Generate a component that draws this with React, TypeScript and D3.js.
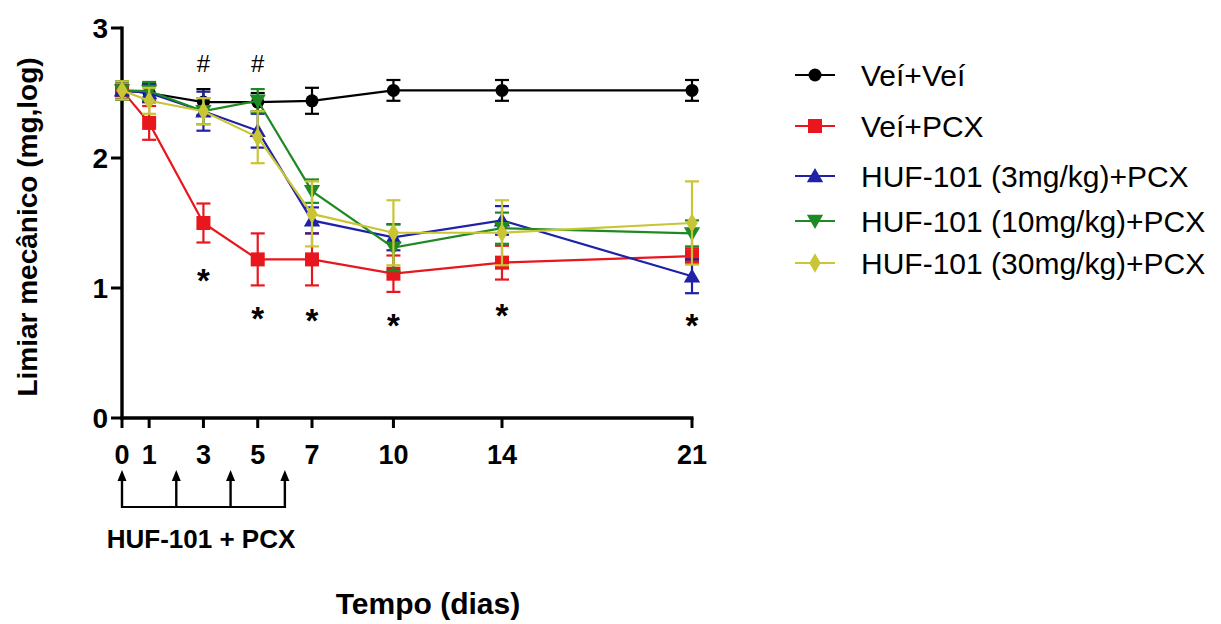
import React from "react";
import * as d3 from "d3";

const days = [0, 1, 3, 5, 7, 10, 14, 21];
const xTickLabels = ["0", "1", "3", "5", "7", "10", "14", "21"];
const yTicks = [0, 1, 2, 3];

const seriesNames = [
  "Veí+Veí",
  "Veí+PCX",
  "HUF-101 (3mg/kg)+PCX",
  "HUF-101 (10mg/kg)+PCX",
  "HUF-101 (30mg/kg)+PCX",
];
const seriesColors = ["#000000", "#e8161d", "#1f22a8", "#1f8a24", "#c9c534"];
const seriesMarkers = ["circle", "square", "triangle", "triangleDown", "diamond"];

const veiVei = [2.52, 2.5, 2.43, 2.43, 2.44, 2.52, 2.52, 2.52];
const veiVeiErr = [0.07, 0.07, 0.1, 0.07, 0.1, 0.08, 0.08, 0.08];
const veiPcx = [2.52, 2.27, 1.5, 1.22, 1.22, 1.11, 1.195, 1.245];
const veiPcxErr = [0.07, 0.13, 0.15, 0.2, 0.2, 0.14, 0.13, 0.06];
const huf3 = [2.52, 2.5, 2.36, 2.21, 1.52, 1.39, 1.52, 1.09];
const huf3Err = [0.07, 0.07, 0.15, 0.13, 0.1, 0.1, 0.11, 0.13];
const huf10 = [2.52, 2.515, 2.36, 2.44, 1.745, 1.31, 1.46, 1.42];
const huf10Err = [0.07, 0.07, 0.1, 0.09, 0.09, 0.18, 0.12, 0.1];
const huf30 = [2.52, 2.44, 2.36, 2.16, 1.57, 1.425, 1.425, 1.5];
const huf30Err = [0.07, 0.1, 0.1, 0.2, 0.25, 0.25, 0.25, 0.32];

const seriesValues = [veiVei, veiPcx, huf3, huf10, huf30];
const seriesErrors = [veiVeiErr, veiPcxErr, huf3Err, huf10Err, huf30Err];

const starDays = [3, 5, 7, 10, 14, 21];
const starValues = [1.08, 0.785, 0.77, 0.73, 0.81, 0.73];
const hashDays = [3, 5];
const hashValues = [2.72, 2.72];
const arrowDays = [0, 2, 4, 6];

const W = 1221;
const H = 624;
const x = d3.scaleLinear().domain([0, 21]).range([122, 692]);
const y = d3.scaleLinear().domain([0, 3]).range([418, 28]);

const FONT = "'Liberation Sans', Arial, Helvetica, sans-serif";

function Marker({ type, cx, cy, color }: { type: string; cx: number; cy: number; color: string }) {
  if (type === "circle") return <circle cx={cx} cy={cy} r={6.5} fill={color} />;
  if (type === "square") return <rect x={cx - 7} y={cy - 7} width={14} height={14} fill={color} />;
  const sym =
    type === "diamond" ? d3.symbol(d3.symbolDiamond, 110) : d3.symbol(d3.symbolTriangle, 115);
  const rot = type === "triangleDown" ? 180 : 0;
  const dy = type === "triangle" ? 1.5 : type === "triangleDown" ? -1.5 : 0;
  return (
    <path
      d={sym() as string}
      transform={`translate(${cx},${cy + dy}) rotate(${rot})`}
      fill={color}
    />
  );
}

export default function App() {
  const line = d3
    .line<number>()
    .x((_, i) => x(days[i]))
    .y((v) => y(v));

  return (
    <svg
      width={W}
      height={H}
      style={{ position: "absolute", left: 0, top: 0, background: "#fff" }}
      fontFamily={FONT}
    >
      <rect width={W} height={H} fill="#fff" />
      {/* axes */}
      <line x1={x(0)} x2={x(0)} y1={y(3) - 1.5} y2={y(0) + 1.5} stroke="#000" strokeWidth={3.4} />
      <line x1={x(0) - 1.5} x2={x(21) + 1.5} y1={y(0)} y2={y(0)} stroke="#000" strokeWidth={3.4} />
      {yTicks.map((t) => (
        <g key={"yt" + t}>
          <line x1={x(0) - 11} x2={x(0)} y1={y(t)} y2={y(t)} stroke="#000" strokeWidth={3} />
          <text
            x={x(0) - 14}
            y={y(t) + 10}
            textAnchor="end"
            fontSize={28}
            fontWeight="bold"
          >
            {t}
          </text>
        </g>
      ))}
      {days.map((d, i) => (
        <g key={"xt" + d}>
          <line x1={x(d)} x2={x(d)} y1={y(0)} y2={y(0) + 10} stroke="#000" strokeWidth={3} />
          <text x={x(d)} y={y(0) + 46} textAnchor="middle" fontSize={27} fontWeight="bold">
            {xTickLabels[i]}
          </text>
        </g>
      ))}
      {/* axis titles */}
      <text
        transform={`translate(37,${(y(0) + y(3)) / 2 + 4}) rotate(-90)`}
        textAnchor="middle"
        fontSize={28}
        fontWeight="bold"
      >
        Limiar mecânico (mg,log)
      </text>
      <text x={428} y={614} textAnchor="middle" fontSize={30} fontWeight="bold">
        Tempo (dias)
      </text>

      {/* treatment arrows */}
      <line
        x1={x(arrowDays[0])}
        x2={x(arrowDays[arrowDays.length - 1])}
        y1={507}
        y2={507}
        stroke="#000"
        strokeWidth={2}
      />
      {arrowDays.map((d) => (
        <g key={"ar" + d}>
          <line x1={x(d)} x2={x(d)} y1={478} y2={508} stroke="#000" strokeWidth={2.4} />
          <path
            d={`M${x(d)},470 L${x(d) - 4.5},481 L${x(d) + 4.5},481 Z`}
            fill="#000"
          />
        </g>
      ))}
      <text x={201} y={548} textAnchor="middle" fontSize={26} fontWeight="bold">
        HUF-101 + PCX
      </text>

      {/* series */}
      {seriesValues.map((vals, si) => {
        const color = seriesColors[si];
        const errs = seriesErrors[si];
        return (
          <g key={"s" + si}>
            <path d={line(vals) as string} fill="none" stroke={color} strokeWidth={2.2} />
            {vals.map((v, i) => {
              const cx = x(days[i]);
              const top = y(v + errs[i]);
              const bot = y(v - errs[i]);
              return (
                <g key={"e" + i} stroke={color} strokeWidth={2.2}>
                  <line x1={cx} x2={cx} y1={top} y2={bot} />
                  <line x1={cx - 7} x2={cx + 7} y1={top} y2={top} />
                  <line x1={cx - 7} x2={cx + 7} y1={bot} y2={bot} />
                </g>
              );
            })}
            {vals.map((v, i) => (
              <Marker
                key={"m" + i}
                type={seriesMarkers[si]}
                cx={x(days[i])}
                cy={y(v)}
                color={color}
              />
            ))}
          </g>
        );
      })}

      {/* significance marks */}
      {starDays.map((d, i) => (
        <text
          key={"st" + i}
          x={x(d)}
          y={y(starValues[i]) + 14}
          textAnchor="middle"
          fontSize={33}
          fontWeight="bold"
        >
          *
        </text>
      ))}
      {hashDays.map((d, i) => (
        <text
          key={"h" + i}
          x={x(d)}
          y={y(hashValues[i]) + 8}
          textAnchor="middle"
          fontSize={24}
        >
          #
        </text>
      ))}

      {/* legend */}
      {seriesNames.map((name, i) => {
        const ly = [75, 126, 176, 221, 263][i];
        return (
          <g key={"lg" + i}>
            <line x1={795} x2={835} y1={ly} y2={ly} stroke={seriesColors[i]} strokeWidth={2.2} />
            <Marker type={seriesMarkers[i]} cx={815} cy={ly} color={seriesColors[i]} />
            <text x={861} y={ly + 11} fontSize={30}>
              {name}
            </text>
          </g>
        );
      })}
    </svg>
  );
}
